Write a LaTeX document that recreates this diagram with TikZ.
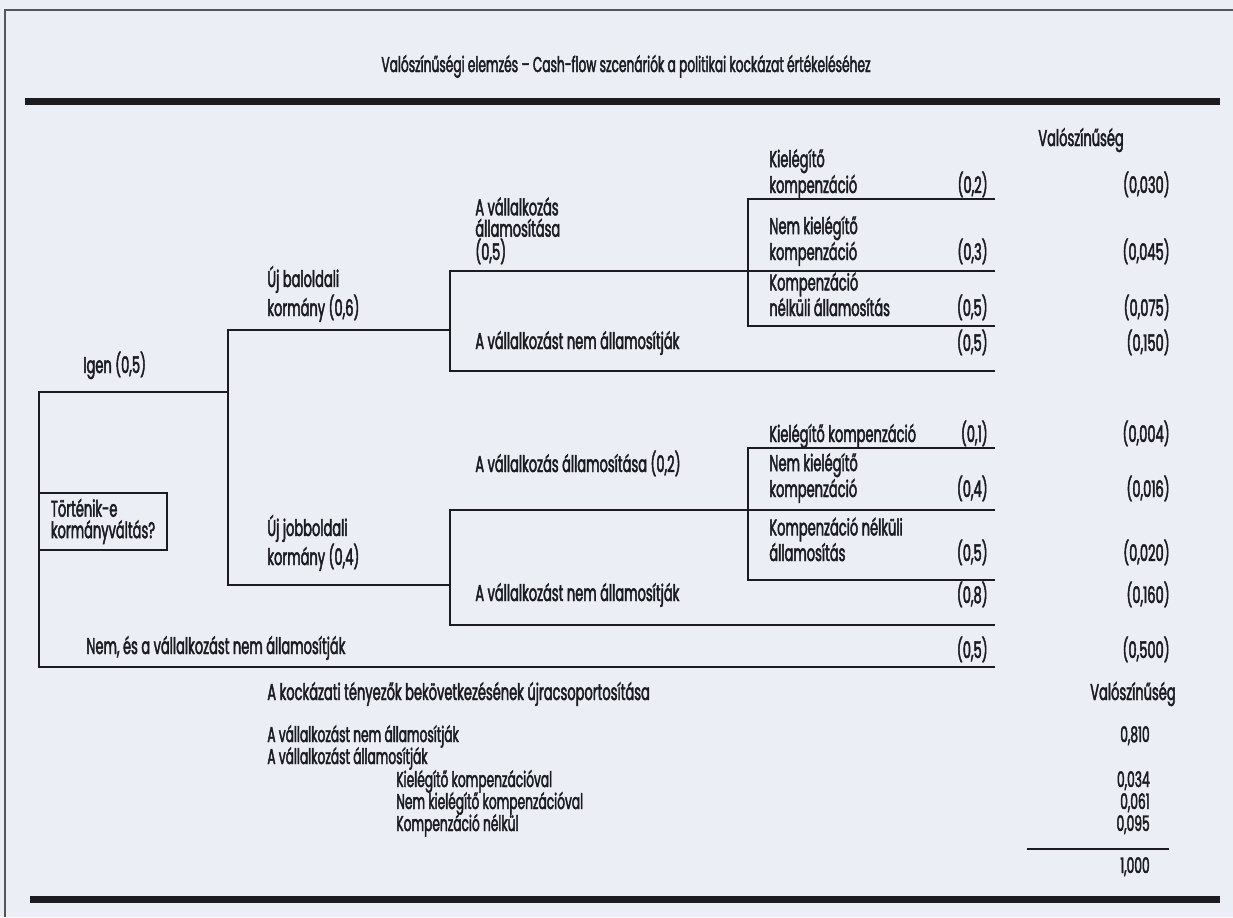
\documentclass[tikz,border=0pt]{standalone}
\usepackage{fontspec}
\setmainfont{Poppins}[FakeStretch=0.57, FakeBold=2]
\usetikzlibrary{positioning}
\definecolor{paper}{RGB}{236,238,246}
\definecolor{ink}{RGB}{28,28,32}

\begin{document}
\begin{tikzpicture}[
    x=0.02cm, y=-0.02cm,
    font=\fontsize{13}{12.2}\selectfont,
    txt/.style={anchor=base west, inner sep=0pt, align=left, text=ink},
    num/.style={anchor=base east, inner sep=0pt, text=ink},
    tight/.style={font=\fontsize{12.2}{12}\selectfont},
    branch/.style={draw=ink, line width=1.6pt},
    bar/.style={draw=ink, line width=4pt},
    frame/.style={draw=ink!75, line width=1pt},
    rootbox/.style={
        rectangle, draw=ink, line width=1.4pt, text=ink, align=left,
        minimum width=2.56cm, minimum height=1.12cm, outer sep=0pt
    },
]
  \fill[paper] (0,0) rectangle (1233,917);
  \useasboundingbox (0,0) rectangle (1233,917);

  %––– Frame, title and bars –––––––––––––––––––––––––––––––
  \draw[frame] (1233,10) -- (5,10) -- (5,917);
  \node (title) [anchor=base, inner sep=0pt, text=ink, font=\fontsize{12.2}{13}\selectfont]
      at (626,72) {Valószínűségi elemzés – Cash-flow szcenáriók a politikai kockázat értékeléséhez};
  \draw[bar] (25,101.5) -- (1220,101.5);
  \draw[bar] (30,899) -- (1220,899);

  %––– Root decision –––––––––––––––––––––––––––––––––––––––
  \node (root) [rootbox, anchor=north west] at (39,493) {Történik-e\\kormányváltás?};

  % junctions and free ends of the branches
  \coordinate (k1)   at (228,392);
  \coordinate (bal)  at (450,330);
  \coordinate (jobb) at (450,585);
  \coordinate (s1)   at (748,271);
  \coordinate (s2)   at (748,510);
  \coordinate (f1)   at (995,199);
  \coordinate (e1)   at (995,271);
  \coordinate (f2)   at (995,326);
  \coordinate (e2)   at (995,371);
  \coordinate (f3)   at (995,448);
  \coordinate (e3)   at (995,510);
  \coordinate (f4)   at (995,580);
  \coordinate (e4)   at (995,625);
  \coordinate (e5)   at (995,667);

  %––– Branches –––––––––––––––––––––––––––––––––––––––––––––
  \draw[branch] (root.north west) |- (k1);
  \draw[branch] (root.south west) |- (e5);
  \draw[branch] (bal) -| (k1) |- (jobb);
  \draw[branch] (e1) -| (bal) |- (e2);
  \draw[branch] (f1) -| (s1) |- (f2);
  \draw[branch] (e3) -| (jobb) |- (e4);
  \draw[branch] (f3) -| (s2) |- (f4);

  %––– Branch labels (base = last line) –––––––––––––––––––––
  \node (igen)  [txt] at (83,373)  {Igen (0,5)};
  \node (balk)  [txt] at (267,316) {Új baloldali\\kormány (0,6)};
  \node (jobbk) [txt] at (267,565) {Új jobboldali\\kormány (0,4)};
  \node (nem)   [txt] at (86,654)  {Nem, és a vállalkozást nem államosítják};

  \node (allam1)    [txt] at (475,260) {A vállalkozás\\államosítása\\(0,5)};
  \node (nemallam1) [txt] at (475,349) {A vállalkozást nem államosítják};
  \node (allam2)    [txt] at (475,472) {A vállalkozás államosítása (0,2)};
  \node (nemallam2) [txt] at (475,601) {A vállalkozást nem államosítják};

  \node (kiel1)    [txt] at (769,193) {Kielégítő\\kompenzáció};
  \node (nemkiel1) [txt] at (769,260) {Nem kielégítő\\kompenzáció};
  \node (nelkul1)  [txt] at (769,316) {Kompenzáció\\nélküli államosítás};
  \node (kiel2)    [txt] at (769,442) {Kielégítő kompenzáció};
  \node (nemkiel2) [txt] at (769,497) {Nem kielégítő\\kompenzáció};
  \node (nelkul2)  [txt] at (769,561) {Kompenzáció nélküli\\államosítás};

  %––– Probabilities ––––––––––––––––––––––––––––––––––––––––
  \node (valsz1) [txt] at (1038,146) {Valószínűség};
  \node (p1)  [num] at (988,193) {(0,2)};  \node (q1)  [num] at (1170,193) {(0,030)};
  \node (p2)  [num] at (988,260) {(0,3)};  \node (q2)  [num] at (1170,260) {(0,045)};
  \node (p3)  [num] at (988,316) {(0,5)};  \node (q3)  [num] at (1170,316) {(0,075)};
  \node (p4)  [num] at (988,351) {(0,5)};  \node (q4)  [num] at (1170,351) {(0,150)};
  \node (p5)  [num] at (988,442) {(0,1)};  \node (q5)  [num] at (1170,442) {(0,004)};
  \node (p6)  [num] at (988,497) {(0,4)};  \node (q6)  [num] at (1170,497) {(0,016)};
  \node (p7)  [num] at (988,561) {(0,5)};  \node (q7)  [num] at (1170,561) {(0,020)};
  \node (p8)  [num] at (988,603) {(0,8)};  \node (q8)  [num] at (1170,603) {(0,160)};
  \node (p9)  [num] at (988,658) {(0,5)};  \node (q9)  [num] at (1170,658) {(0,500)};

  %––– Regrouping –––––––––––––––––––––––––––––––––––––––––––
  \node (regr)   [txt] at (267,700) {A kockázati tényezők bekövetkezésének újracsoportosítása};
  \node (valsz2) [num] at (1176,700) {Valószínűség};
  \node (r1) [txt, tight] at (267,742) {A vállalkozást nem államosítják};
  \node (r2) [txt, tight] at (267,764) {A vállalkozást államosítják};
  \node (r3) [txt, tight] at (396,787) {Kielégítő kompenzációval};
  \node (r4) [txt, tight] at (396,809) {Nem kielégítő kompenzációval};
  \node (r5) [txt, tight] at (396,831) {Kompenzáció nélkül};
  \node (v1) [num, tight] at (1150,742) {0,810};
  \node (v3) [num, tight] at (1150,787) {0,034};
  \node (v4) [num, tight] at (1150,809) {0,061};
  \node (v5) [num, tight] at (1150,831) {0,095};
  \draw[draw=ink, line width=0.6pt] (1027,849) -- (1169,849);
  \node (sum) [num, tight] at (1150,873) {1,000};
\end{tikzpicture}
\end{document}
